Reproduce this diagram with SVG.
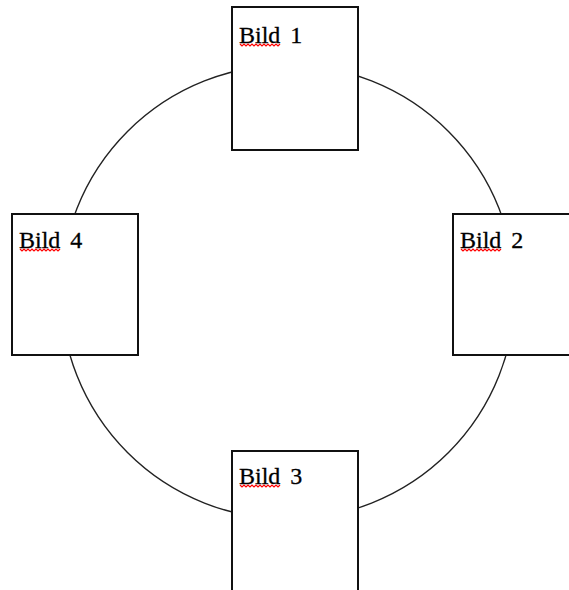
<svg xmlns="http://www.w3.org/2000/svg" width="569" height="590" viewBox="0 0 569 590">
  <style>
    .ring { fill: none; stroke: #222; stroke-width: 1.4; }
    .box { fill: #fff; stroke: #111; stroke-width: 2; }
    .lbl { font-family: "Liberation Serif", "Times New Roman", serif; font-size: 24px; fill: #000; stroke: #000; stroke-width: 0.3; word-spacing: 4px; }
    .squig { fill: none; stroke: #f00; stroke-width: 1.2; }
  </style>
  <defs>
    <path id="sq" d="M0,1 l2,2 l2,-2 l2,2 l2,-2 l2,2 l2,-2 l2,2 l2,-2 l2,2 l2,-2 l2,2 l2,-2 l2,2 l2,-2 l2,2 l2,-2 l2,2 l2,-2 l2,2 l2,-2"/>
  </defs>
  <rect width="569" height="590" fill="#fff"/>
  <g id="connectors">
    <circle class="ring" cx="288" cy="292" r="227"/>
  </g>
  <g id="bild1">
    <rect class="box" x="232" y="7" width="126" height="143"/>
    <text class="lbl" x="239" y="43">Bild 1</text>
    <use href="#sq" class="squig" x="240" y="43"/>
  </g>
  <g id="bild2">
    <rect class="box" x="453" y="214" width="130" height="141"/>
    <text class="lbl" x="460" y="248">Bild 2</text>
    <use href="#sq" class="squig" x="461" y="248"/>
  </g>
  <g id="bild3">
    <rect class="box" x="232" y="451" width="126" height="150"/>
    <text class="lbl" x="239" y="484">Bild 3</text>
    <use href="#sq" class="squig" x="240" y="484"/>
  </g>
  <g id="bild4">
    <rect class="box" x="12" y="214" width="126" height="141"/>
    <text class="lbl" x="19" y="248">Bild 4</text>
    <use href="#sq" class="squig" x="20" y="248"/>
  </g>
</svg>
